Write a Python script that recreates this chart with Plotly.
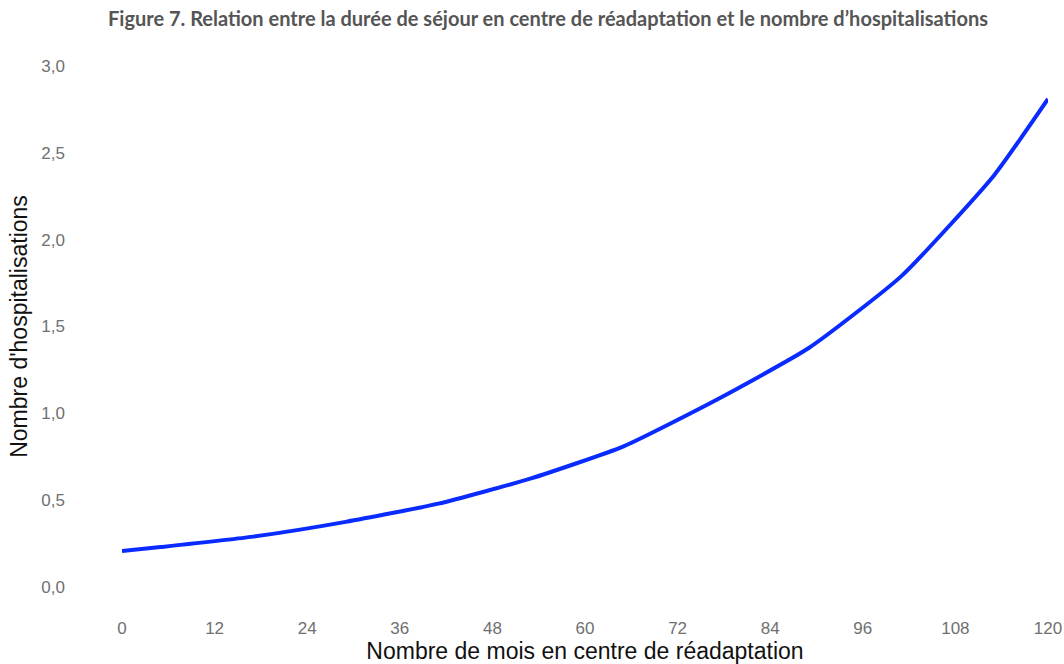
import plotly.graph_objects as go

months = [0, 5, 17, 29, 41, 53, 65, 77, 89, 101, 113, 120]
hospitalisations = [0.207, 0.23, 0.29, 0.375, 0.48, 0.625, 0.81, 1.077, 1.376, 1.79, 2.37, 2.81]
x_ticks = [0, 12, 24, 36, 48, 60, 72, 84, 96, 108, 120]
y_ticks = [0.0, 0.5, 1.0, 1.5, 2.0, 2.5, 3.0]

fig = go.Figure()
fig.add_trace(go.Scatter(
    x=months, y=hospitalisations, mode="lines",
    line=dict(color="#0a2bff", width=4, shape="spline", smoothing=0.5),
    showlegend=False, hoverinfo="skip",
))

fig.update_layout(
    width=1064, height=664,
    paper_bgcolor="white", plot_bgcolor="white",
    separators=", ",
    margin=dict(l=122, r=16, t=66, b=77, autoexpand=False),
    title=dict(
        text="<b>Figure 7. Relation entre la durée de séjour en centre de réadaptation et le nombre d’hospitalisations</b>",
        font=dict(family="Lato", size=20, color="#555555"),
        x=548 / 1064, xanchor="center", xref="container",
        y=1 - 19 / 664, yanchor="middle", yref="container",
    ),
    xaxis=dict(
        range=[0, 120], tickvals=x_ticks, ticktext=[str(v) for v in x_ticks],
        showgrid=False, zeroline=False, showline=False, ticks="",
        automargin=False,
        tickfont=dict(family="Liberation Sans", size=17, color="#707070"),
        ticklabelstandoff=29,
        title=dict(text="Nombre de mois en centre de réadaptation",
                   font=dict(family="Liberation Sans", size=23, color="#111111"),
                   standoff=3),
    ),
    yaxis=dict(
        range=[0, 3], tickvals=y_ticks, tickformat=".1f",
        showgrid=False, zeroline=False, showline=False, ticks="",
        automargin=False,
        tickfont=dict(family="Liberation Sans", size=17, color="#707070"),
        ticklabelstandoff=56,
        title=dict(text="Nombre d'hospitalisations",
                   font=dict(family="Liberation Sans", size=23, color="#111111"),
                   standoff=7),
    ),
)

fig.write_html("out.html", config={"displayModeBar": False},
               post_script="document.body.style.margin='0';")
